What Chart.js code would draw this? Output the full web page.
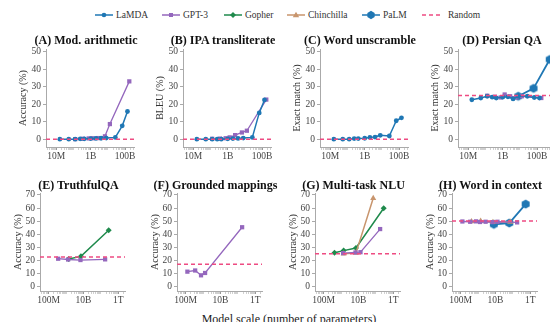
<!DOCTYPE html>
<html>
<head>
<meta charset="utf-8">
<script src="https://cdn.jsdelivr.net/npm/chart.js@4.4.1/dist/chart.umd.min.js"></script>
<style>
  html, body { margin: 0; padding: 0; background: #fff; }
  body { position: relative; width: 550px; height: 322px; overflow: hidden;
         font-family: "Liberation Serif", "DejaVu Serif", serif; color: #222; }
  canvas { position: absolute; }
  .ttl { position: absolute; font-weight: bold; font-size: 12px; line-height: 14px;
         white-space: nowrap; transform: translate(-50%, -50%); color: #111; }
  .leg { position: absolute; top: 9px; height: 12px; font-size: 9.5px; line-height: 12px; color: #333; white-space: nowrap; }
  .leg svg { position: absolute; left: 0; top: 0; }
  #xlab { position: absolute; left: 289px; top: 319px; transform: translate(-50%, -50%);
          font-size: 12px; white-space: nowrap; color: #222; }
</style>
</head>
<body>
<div id="legend"></div>
<div id="xlab">Model scale (number of parameters)</div>
<script>
// model sizes (number of parameters)
const lamdaSizes = [1.6e7, 5.3e7, 1.25e8, 2.44e8, 4.22e8, 1e9, 2e9, 4e9, 8e9, 2.7e10, 6.8e10, 1.37e11];
const gpt3Sizes = [1.25e8, 3.5e8, 7.6e8, 1.3e9, 2.7e9, 6.7e9, 1.3e10, 1.75e11];
const gopherSizes = [4.17e8, 1.4e9, 7.1e9, 2.8e11];
const chinchillaSizes = [4.17e8, 1.4e9, 7.1e9, 7e10];
const palmSizes = [8e9, 6.2e10, 5.4e11];

// tick labels
const topYTicks = [0, 10, 20, 30, 40, 50];
const bottomYTicks = [0, 10, 20, 30, 40, 50, 60, 70];
const topXTicks = [1e7, 1e9, 1e11];
const topXLabels = ['10M', '1B', '100B'];
const bottomXTicks = [1e8, 1e10, 1e12];
const bottomXLabels = ['100M', '10B', '1T'];

const panelTitles = ['(A) Mod. arithmetic', '(B) IPA transliterate', '(C) Word unscramble', '(D) Persian QA',
                     '(E) TruthfulQA', '(F) Grounded mappings', '(G) Multi-task NLU', '(H) Word in context'];
const yTitles = ['Accuracy (%)', 'BLEU (%)', 'Exact match (%)', 'Exact match (%)',
                 'Accuracy (%)', 'Accuracy (%)', 'Accuracy (%)', 'Accuracy (%)'];

// (A) modular arithmetic
const modArithLamda = [0, 0, 0, 0.2, 0.2, 0.3, 0.4, 0.5, 0.6, 1.0, 7.6, 15.8];
const modArithGpt3 = [0, 0.2, 0.4, 0.5, 0.6, 1.6, 8.6, 33.0];
// (B) IPA transliterate
const ipaLamda = [0, 0, 0, 0, 0, 0.2, 0.3, 0.4, 0.6, 1.0, 15.0, 22.4];
const ipaGpt3 = [0.2, 0.3, 0.5, 1.0, 2.3, 3.8, 4.8, 22.6];
// (C) word unscramble
const unscrambleLamda = [0, 0, 0, 0.3, 0.3, 0.5, 1.0, 1.2, 2.2, 1.8, 10.5, 12.2];
// (D) Persian QA
const persianLamda = [22.5, 23.5, 24.5, 24.0, 23.5, 24.0, 24.2, 23.0, 24.5, 24.5, 23.8, 23.5];
const persianGpt3 = [24.8, 24.2, 23.8, 25.5, 24.5, 23.8, 24.5, 23.5];
const persianPalm = [24.5, 29.0, 45.5];
// (E) TruthfulQA
const truthfulGpt3 = [null, 21.2, null, 20.6, null, 20.2, null, 20.7];
const truthfulGopher = [null, 21.0, 23.0, 43.0];
// (F) grounded mappings
const groundedGpt3 = [11.3, 12.2, 8.5, 10.3, null, null, null, 45.3];
// (G) multi-task NLU
const mmluGpt3 = [null, null, null, 25.5, null, 26.0, 26.2, 43.9];
const mmluGopher = [25.8, 27.4, 29.4, 59.8];
const mmluChinchilla = [null, 25.0, 25.5, 67.5];
// (H) word in context
const wicGpt3 = [49.7, 49.5, 49.8, 49.3, 49.5, 49.2, 49.5, 49.0];
const wicChinchilla = [49.6, 50.0, 49.2, 49.4];
const wicPalm = [47.5, 48.5, 63.0];

const randomBaseline = [0, 0, 0, 25, 22.6, 17, 25, 50];

// styles
const serif = '"Liberation Serif", "DejaVu Serif", serif';
const C = { lamda: '#1f77b4', gpt3: '#9467bd', gopher: '#1f8a4c', chinchilla: '#c8956d', palm: '#1f77b4', random: '#ee4b82' };

function hexagon(r, color) {
  const s = Math.ceil(r * 2 + 2);
  const c = document.createElement('canvas');
  c.width = c.height = s;
  const g = c.getContext('2d');
  g.beginPath();
  for (let k = 0; k < 6; k++) {
    const a = -Math.PI / 2 + k * Math.PI / 3;
    const px = s / 2 + r * Math.cos(a), py = s / 2 + r * Math.sin(a);
    k ? g.lineTo(px, py) : g.moveTo(px, py);
  }
  g.closePath();
  g.fillStyle = color;
  g.fill();
  return c;
}
const hexMarker = hexagon(4.6, C.palm);

const model = {
  lamda: { sizes: lamdaSizes, color: C.lamda, pointStyle: 'circle', pointRadius: 2.4, width: 1.5 },
  gpt3: { sizes: gpt3Sizes, color: C.gpt3, pointStyle: 'rect', pointRadius: 3, width: 1.3 },
  gopher: { sizes: gopherSizes, color: C.gopher, pointStyle: 'rectRot', pointRadius: 3, width: 1.5 },
  chinchilla: { sizes: chinchillaSizes, color: C.chinchilla, pointStyle: 'triangle', pointRadius: 3.5, width: 1.5 },
  palm: { sizes: palmSizes, color: C.palm, pointStyle: hexMarker, pointRadius: 4.6, width: 1.8 }
};

const rows = {
  top: { plotTop: 49, plotH: 98, logMin: 6.4, pxDec: 17.2, yMin: -4.5, yMax: 51.5,
         yTicks: topYTicks, xTicks: topXTicks, xLabels: topXLabels, titleY: 40, yTitlePad: 11 },
  bottom: { plotTop: 193, plotH: 98, logMin: 7.5, pxDec: 17.4, yMin: -3.5, yMax: 71.5,
            yTicks: bottomYTicks, xTicks: bottomXTicks, xLabels: bottomXLabels, titleY: 185, yTitlePad: 12 }
};

const panels = [
  { row: 'top', left: 46, w: 88, series: [['lamda', modArithLamda], ['gpt3', modArithGpt3]] },
  { row: 'top', left: 183, w: 88, series: [['lamda', ipaLamda], ['gpt3', ipaGpt3]] },
  { row: 'top', left: 320, w: 88, series: [['lamda', unscrambleLamda]] },
  { row: 'top', left: 458, w: 96, series: [['lamda', persianLamda], ['gpt3', persianGpt3], ['palm', persianPalm]] },
  { row: 'bottom', left: 40, w: 85, series: [['gpt3', truthfulGpt3], ['gopher', truthfulGopher]] },
  { row: 'bottom', left: 177, w: 85, series: [['gpt3', groundedGpt3]] },
  { row: 'bottom', left: 315, w: 85, series: [['gpt3', mmluGpt3], ['chinchilla', mmluChinchilla], ['gopher', mmluGopher]] },
  { row: 'bottom', left: 452, w: 85, series: [['gpt3', wicGpt3], ['chinchilla', wicChinchilla], ['palm', wicPalm]] }
];

function logTicks(lmin, lmax, labeled) {
  const out = [];
  for (let e = Math.floor(lmin); e <= Math.ceil(lmax); e++) {
    for (let m = 1; m < 10; m++) {
      const v = m * Math.pow(10, e), l = Math.log10(v);
      if (l >= lmin && l <= lmax) {
        out.push({ value: v, major: labeled.some(t => Math.abs(Math.log10(t) - l) < 1e-6) });
      }
    }
  }
  return out;
}

const Y_W = 40, X_H = 22, PAD_T = 6, PAD_R = 6;

panels.forEach((p, i) => {
  const r = rows[p.row];
  const lmin = r.logMin, lmax = r.logMin + p.w / r.pxDec;
  const xmin = Math.pow(10, lmin), xmax = Math.pow(10, lmax);

  const cv = document.createElement('canvas');
  cv.width = Y_W + p.w + PAD_R;
  cv.height = PAD_T + r.plotH + X_H;
  cv.style.left = (p.left - Y_W) + 'px';
  cv.style.top = (r.plotTop - PAD_T) + 'px';
  document.body.appendChild(cv);

  const t = document.createElement('div');
  t.className = 'ttl';
  t.textContent = panelTitles[i];
  t.style.left = (p.left + p.w / 2 - 4) + 'px';
  t.style.top = r.titleY + 'px';
  document.body.appendChild(t);

  const datasets = [{
    data: [{ x: xmin, y: randomBaseline[i] }, { x: xmax, y: randomBaseline[i] }],
    borderColor: C.random, borderWidth: 1.5, borderDash: [4, 3], pointRadius: 0, order: 0
  }];
  p.series.forEach(([key, vals], k) => {
    const m = model[key];
    datasets.push({
      data: m.sizes.map((x, j) => ({ x: x, y: vals[j] })).filter(d => d.y !== null && d.y !== undefined),
      borderColor: m.color, backgroundColor: m.color, borderWidth: m.width,
      pointStyle: m.pointStyle, pointRadius: m.pointRadius, pointBorderWidth: 0,
      tension: 0, order: k + 1, clip: 6
    });
  });

  new Chart(cv, {
    type: 'line',
    data: { datasets },
    options: {
      responsive: false,
      animation: false,
      events: [],
      layout: { padding: { top: PAD_T, right: PAD_R, left: 0, bottom: 0 } },
      plugins: { legend: { display: false }, tooltip: { enabled: false } },
      scales: {
        x: {
          type: 'logarithmic', min: xmin, max: xmax,
          afterBuildTicks: s => { s.ticks = logTicks(lmin, lmax, r.xTicks); },
          afterFit: s => { s.height = X_H; s.paddingLeft = 0; s.paddingRight = 0; },
          ticks: {
            autoSkip: false, maxRotation: 0, padding: 1, color: '#444',
            font: { family: serif, size: 9.5 },
            callback: v => {
              const k = r.xTicks.findIndex(t => Math.abs(Math.log10(t) - Math.log10(v)) < 1e-6);
              return k >= 0 ? r.xLabels[k] : '';
            }
          },
          grid: { drawOnChartArea: false, drawTicks: true, tickLength: 3,
                  color: c => (c.tick && c.tick.major) ? '#999' : '#d0d0d0' },
          border: { color: '#aaa', width: 1 }
        },
        y: {
          min: r.yMin, max: r.yMax,
          afterBuildTicks: s => { s.ticks = r.yTicks.map(v => ({ value: v })); },
          afterFit: s => { s.width = Y_W; s.paddingTop = 0; s.paddingBottom = 0; },
          ticks: { autoSkip: false, padding: 2, color: '#444', font: { family: serif, size: 9.5 } },
          grid: { drawOnChartArea: false, drawTicks: true, tickLength: 3, color: '#aaa' },
          border: { color: '#aaa', width: 1 },
          title: { display: true, text: yTitles[i], color: '#333',
                   font: { family: serif, size: 10 }, padding: { top: r.yTitlePad, bottom: 0 } }
        }
      }
    }
  });
});

// legend
const legendItems = [
  { name: 'LaMDA', key: 'lamda', x: 95 },
  { name: 'GPT-3', key: 'gpt3', x: 162 },
  { name: 'Gopher', key: 'gopher', x: 224 },
  { name: 'Chinchilla', key: 'chinchilla', x: 287 },
  { name: 'PaLM', key: 'palm', x: 362 },
  { name: 'Random', key: 'random', x: 422 }
];
function icon(key) {
  const col = C[key];
  let line = `<line x1="0" y1="6" x2="18" y2="6" stroke="${col}" stroke-width="1.5"${key === 'random' ? ' stroke-dasharray="4,3"' : ''}/>`;
  let mk = '';
  if (key === 'lamda') mk = `<circle cx="9" cy="6" r="2.3" fill="${col}"/>`;
  if (key === 'gpt3') mk = `<rect x="7" y="4" width="4" height="4" fill="${col}"/>`;
  if (key === 'gopher') mk = `<polygon points="9,3 12,6 9,9 6,6" fill="${col}"/>`;
  if (key === 'chinchilla') mk = `<polygon points="9,2.8 12.2,8.2 5.8,8.2" fill="${col}"/>`;
  if (key === 'palm') {
    const pts = [];
    for (let k = 0; k < 6; k++) { const a = -Math.PI / 2 + k * Math.PI / 3; pts.push((9 + 4.2 * Math.cos(a)).toFixed(2) + ',' + (6 + 4.2 * Math.sin(a)).toFixed(2)); }
    mk = `<polygon points="${pts.join(' ')}" fill="${col}"/>`;
  }
  return `<svg width="20" height="12">${line}${mk}</svg>`;
}
const lg = document.getElementById('legend');
legendItems.forEach(it => {
  const d = document.createElement('div');
  d.className = 'leg';
  d.style.left = it.x + 'px';
  d.innerHTML = icon(it.key) + `<span style="position:absolute;left:${it.key === 'random' ? 26 : 21}px;top:0">${it.name}</span>`;
  lg.appendChild(d);
});
</script>
</body>
</html>
